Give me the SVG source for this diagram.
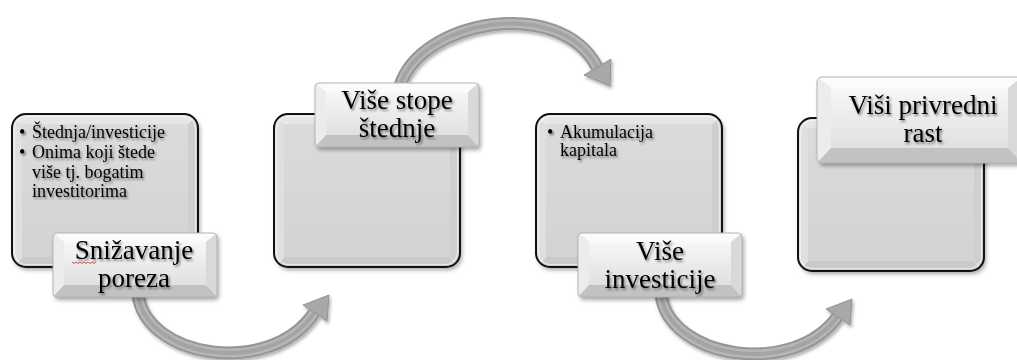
<svg xmlns="http://www.w3.org/2000/svg" xmlns:xlink="http://www.w3.org/1999/xlink" width="1017" height="360" viewBox="0 0 1017 360">
  <style>
    .outline { fill: none; stroke: #111; stroke-width: 2; }
    .bx-top { fill: #e6e6e6; }
    .bx-left { fill: #dfdfdf; }
    .bx-right { fill: #cfcfcf; }
    .bx-bottom { fill: #cacaca; }
    .lb-top { fill: #fbfbfb; }
    .lb-left { fill: #ececec; }
    .lb-right { fill: #d9d9d9; }
    .lb-bottom { fill: #c2c2c2; }
    .lb-edge { fill: none; stroke: #b5b5b5; stroke-width: 1; }
    .crease { stroke: #ffffff; stroke-opacity: 0.5; stroke-width: 0.8; }
    .title { font-family: "Liberation Serif", "Times New Roman", serif; font-size: 27px; fill: #000; text-anchor: middle; filter: url(#textShadow); }
    .item { font-family: "Liberation Serif", "Times New Roman", serif; font-size: 18px; fill: #000; filter: url(#textShadow); }
    .band-dark { fill: none; stroke: #959595; stroke-width: 13; }
    .band-light { fill: none; stroke: #b6b6b6; stroke-width: 9; }
    .band-mid { fill: none; stroke: #a4a4a4; stroke-width: 4; }
    .head { fill: #a8a8a8; stroke: #929292; stroke-width: 1; stroke-linejoin: round; }
  </style>
  <defs>
    <filter id="softShadow" x="-10%" y="-10%" width="130%" height="130%">
      <feDropShadow dx="2" dy="3" stdDeviation="2" flood-color="#000" flood-opacity="0.35"/>
    </filter>
    <filter id="arrowShadow" x="-10%" y="-10%" width="130%" height="130%">
      <feDropShadow dx="1.5" dy="2.5" stdDeviation="1.8" flood-color="#000" flood-opacity="0.3"/>
    </filter>
    <filter id="textShadow" x="-10%" y="-20%" width="130%" height="150%">
      <feDropShadow dx="1.5" dy="2" stdDeviation="1.2" flood-color="#000" flood-opacity="0.45"/>
    </filter>
    <linearGradient id="boxCenter" x1="0" y1="0" x2="0" y2="1">
      <stop offset="0" stop-color="#dbdbdb"/>
      <stop offset="1" stop-color="#d3d3d3"/>
    </linearGradient>
    <linearGradient id="labelCenter" x1="0" y1="0" x2="0" y2="1">
      <stop offset="0" stop-color="#f7f7f7"/>
      <stop offset="1" stop-color="#e0e0e0"/>
    </linearGradient>
    <clipPath id="boxClip">
      <rect x="0" y="0" width="186" height="153" rx="14"/>
    </clipPath>
    <clipPath id="labelClip">
      <rect x="0" y="0" width="164" height="64" rx="4"/>
    </clipPath>
    <clipPath id="wideLabelClip">
      <rect x="0" y="0" width="205" height="86" rx="5"/>
    </clipPath>

    <!-- large bevelled panel, 186 x 153 -->
    <g id="panel">
      <g filter="url(#softShadow)">
        <rect x="0" y="0" width="186" height="153" rx="14" fill="#d9d9d9"/>
      </g>
      <g clip-path="url(#boxClip)">
        <polygon class="bx-top" points="0,0 186,0 176,10 10,10"/>
        <polygon class="bx-left" points="0,0 10,10 10,143 0,153"/>
        <polygon class="bx-right" points="186,0 186,153 176,143 176,10"/>
        <polygon class="bx-bottom" points="0,153 10,143 176,143 186,153"/>
        <rect x="10" y="10" width="166" height="133" fill="url(#boxCenter)"/>
        <line class="crease" x1="4" y1="4" x2="10" y2="10"/>
        <line class="crease" x1="182" y1="4" x2="176" y2="10"/>
        <line class="crease" x1="4" y1="149" x2="10" y2="143"/>
        <line class="crease" x1="182" y1="149" x2="176" y2="143"/>
        <rect x="2.5" y="2.5" width="181" height="148" rx="12" fill="none" stroke="#fff" stroke-opacity="0.55" stroke-width="1.2"/>
      </g>
      <rect class="outline" x="0" y="0" width="186" height="153" rx="14"/>
    </g>

    <!-- small bevelled title plate, 164 x 64 -->
    <g id="plate">
      <g filter="url(#softShadow)">
        <rect x="0" y="0" width="164" height="64" rx="4" fill="#ececec"/>
      </g>
      <g clip-path="url(#labelClip)">
        <polygon class="lb-top" points="0,0 164,0 153,9 11,9"/>
        <polygon class="lb-left" points="0,0 11,9 11,52 0,64"/>
        <polygon class="lb-right" points="164,0 164,64 153,52 153,9"/>
        <polygon class="lb-bottom" points="0,64 11,52 153,52 164,64"/>
        <rect x="11" y="9" width="142" height="43" fill="url(#labelCenter)"/>
      </g>
      <rect class="lb-edge" x="0" y="0" width="164" height="64" rx="4"/>
    </g>

    <!-- wide bevelled title plate, 205 x 86 -->
    <g id="widePlate">
      <g filter="url(#softShadow)">
        <rect x="0" y="0" width="205" height="86" rx="5" fill="#ececec"/>
      </g>
      <g clip-path="url(#wideLabelClip)">
        <polygon class="lb-top" points="0,0 205,0 191,11 14,11"/>
        <polygon class="lb-left" points="0,0 14,11 14,71 0,86"/>
        <polygon class="lb-right" points="205,0 205,86 191,71 191,11"/>
        <polygon class="lb-bottom" points="0,86 14,71 191,71 205,86"/>
        <rect x="14" y="11" width="177" height="60" fill="url(#labelCenter)"/>
      </g>
      <rect class="lb-edge" x="0" y="0" width="205" height="86" rx="5"/>
    </g>
  </defs>

  <rect x="0" y="0" width="1017" height="360" fill="#ffffff"/>

  <!-- panels -->
  <g id="panel-1">
    <use xlink:href="#panel" transform="translate(12,114)"/>
    <text class="item" x="19" y="138">•</text>
    <text class="item" x="32" y="138">Štednja/investicije</text>
    <text class="item" x="19" y="158">•</text>
    <text class="item" x="32" y="158">Onima koji štede</text>
    <text class="item" x="32" y="178">više tj. bogatim</text>
    <text class="item" x="32" y="197">investitorima</text>
  </g>
  <g id="panel-2">
    <use xlink:href="#panel" transform="translate(274,114)"/>
  </g>
  <g id="panel-3">
    <use xlink:href="#panel" transform="translate(536,114)"/>
    <text class="item" x="547" y="138">•</text>
    <text class="item" x="560" y="138">Akumulacija</text>
    <text class="item" x="560" y="156">kapitala</text>
  </g>
  <g id="panel-4">
    <use xlink:href="#panel" transform="translate(798,118)"/>
  </g>

  <!-- curved connectors -->
  <g id="connectors" filter="url(#arrowShadow)">
    <g id="arrow-1">
      <path class="band-dark" d="M138 294 C145 358, 270 378, 314 313"/>
      <path class="band-light" d="M138 294 C145 358, 270 378, 314 313"/>
      <path class="band-mid" d="M138 294 C145 358, 270 378, 314 313"/>
      <polygon class="head" points="303,305 329,295 327,321"/>
    </g>
    <g id="arrow-2">
      <path class="band-dark" d="M400 86 C420 20, 560 -5, 597 67"/>
      <path class="band-light" d="M400 86 C420 20, 560 -5, 597 67"/>
      <path class="band-mid" d="M400 86 C420 20, 560 -5, 597 67"/>
      <polygon class="head" points="584,75 611,59 610,86"/>
    </g>
    <g id="arrow-3">
      <path class="band-dark" d="M661 294 C668 358, 793 379, 838 316"/>
      <path class="band-light" d="M661 294 C668 358, 793 379, 838 316"/>
      <path class="band-mid" d="M661 294 C668 358, 793 379, 838 316"/>
      <polygon class="head" points="826,309 852,299 850,325"/>
    </g>
  </g>

  <!-- title plates -->
  <g id="title-1">
    <use xlink:href="#plate" transform="translate(53,233)"/>
    <text class="title" x="134" y="259">Snižavanje</text>
    <text class="title" x="134" y="287">poreza</text>
    <polyline points="72,262 74,263.5 76,262 78,263.5 80,262 82,263.5 84,262 86,263.5 88,262 90,263.5 92,262 94,263.5 96,262" fill="none" stroke="#d22" stroke-width="0.8"/>
  </g>
  <g id="title-2">
    <use xlink:href="#plate" transform="translate(315,83)"/>
    <text class="title" x="397" y="109">Više stope</text>
    <text class="title" x="397" y="137">štednje</text>
  </g>
  <g id="title-3">
    <use xlink:href="#plate" transform="translate(578,233)"/>
    <text class="title" x="660" y="260">Više</text>
    <text class="title" x="660" y="288">investicije</text>
  </g>
  <g id="title-4">
    <use xlink:href="#widePlate" transform="translate(817,77)"/>
    <text class="title" x="923" y="114">Viši privredni</text>
    <text class="title" x="923" y="142">rast</text>
  </g>
</svg>
